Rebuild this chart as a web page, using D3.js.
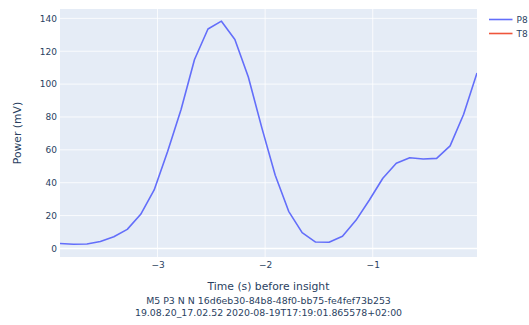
<!DOCTYPE html>
<html>
<head>
<meta charset="utf-8">
<script src="https://cdn.jsdelivr.net/npm/d3@7"></script>
<style>
  html, body { margin: 0; padding: 0; background: #fff; }
  svg { display: block; }
  text { font-family: "DejaVu Sans", Verdana, sans-serif; fill: #2a3f5f; }
</style>
</head>
<body>
<svg id="chart" width="529" height="325"></svg>
<script>
// Sample times (s) before insight, sampled every 0.125 s
const startTime = -3.90625;
const step = 0.125;
// P8 band power (mV) at each sample
const p8Values = [
  3.0, 2.6, 2.7, 4.2, 7.1, 11.6, 20.8, 35.6,
  59.0, 84.5, 115.0, 133.5, 138.3, 127.2, 104.3, 73.5,
  44.5, 22.6, 9.6, 3.9, 3.8, 7.4, 17.1, 29.5,
  42.7, 51.8, 55.2, 54.4, 54.8, 62.4, 81.5, 106.8
];
// T8 has no samples in this window
const t8Values = [];

const seriesNames = ["P8", "T8"];
const seriesColors = ["#636efa", "#EF553B"];
const xTicks = [-3, -2, -1];
const yTicks = [0, 20, 40, 60, 80, 100, 120, 140];
const yRange = [-5.2, 145.7];

const xTitle = "Time (s) before insight";
const subtitleLines = [
  "M5 P3 N N 16d6eb30-84b8-48f0-bb75-fe4fef73b253",
  "19.08.20_17.02.52 2020-08-19T17:19:01.865578+02:00"
];
const yTitle = "Power (mV)";

const p8 = p8Values.map((v, i) => ({ t: startTime + i * step, v }));
const t8 = t8Values.map((v, i) => ({ t: startTime + i * step, v }));

const plot = { left: 60, right: 477, top: 9, bottom: 257 };
const svg = d3.select("#chart");

const x = d3.scaleLinear()
  .domain(d3.extent(p8, d => d.t))
  .range([plot.left, plot.right]);
const y = d3.scaleLinear()
  .domain(yRange)
  .range([plot.bottom, plot.top]);

// plot background
svg.append("rect")
  .attr("x", plot.left).attr("y", plot.top)
  .attr("width", plot.right - plot.left)
  .attr("height", plot.bottom - plot.top)
  .attr("fill", "#E5ECF6");

// grid lines
const grid = svg.append("g");
grid.selectAll("line.gy").data(yTicks).join("line")
  .attr("class", "gy")
  .attr("x1", plot.left).attr("x2", plot.right)
  .attr("y1", d => y(d)).attr("y2", d => y(d))
  .attr("stroke", "#fff")
  .attr("stroke-width", d => d === 0 ? 1.5 : 0.8);
grid.selectAll("line.gx").data(xTicks).join("line")
  .attr("class", "gx")
  .attr("y1", plot.top).attr("y2", plot.bottom)
  .attr("x1", d => x(d)).attr("x2", d => x(d))
  .attr("stroke", "#fff")
  .attr("stroke-width", 0.8);

const fmt = d => (d < 0 ? "\u2212" + Math.abs(d) : String(d));

// y axis tick labels
const yAxis = svg.append("g")
  .attr("transform", `translate(${plot.left - 3},0)`)
  .call(d3.axisLeft(y).tickValues(yTicks).tickFormat(fmt).tickSize(0).tickPadding(0));
yAxis.select(".domain").remove();
yAxis.selectAll("text")
  .attr("font-size", 9)
  .attr("fill", "#2a3f5f")
  .attr("font-family", "DejaVu Sans, Verdana, sans-serif");

// x axis tick labels
const xAxis = svg.append("g")
  .attr("transform", `translate(0,${plot.bottom + 5})`)
  .call(d3.axisBottom(x).tickValues(xTicks).tickFormat(fmt).tickSize(0).tickPadding(0));
xAxis.select(".domain").remove();
xAxis.selectAll("text")
  .attr("font-size", 9)
  .attr("fill", "#2a3f5f")
  .attr("font-family", "DejaVu Sans, Verdana, sans-serif");

// lines
const line = d3.line().x(d => x(d.t)).y(d => y(d.v));
svg.append("clipPath").attr("id", "plotclip")
  .append("rect")
  .attr("x", plot.left).attr("y", plot.top)
  .attr("width", plot.right - plot.left)
  .attr("height", plot.bottom - plot.top);
const traces = svg.append("g").attr("clip-path", "url(#plotclip)");
[p8, t8].forEach((data, i) => {
  if (!data.length) return;
  traces.append("path")
    .datum(data)
    .attr("d", line)
    .attr("fill", "none")
    .attr("stroke", seriesColors[i])
    .attr("stroke-width", 1.6)
    .attr("stroke-linejoin", "round");
});

// axis titles
const cx = (plot.left + plot.right) / 2;
svg.append("text")
  .attr("x", cx).attr("y", 290)
  .attr("text-anchor", "middle")
  .attr("font-size", 10.8)
  .text(xTitle);
svg.selectAll("text.sub").data(subtitleLines).join("text")
  .attr("class", "sub")
  .attr("x", cx)
  .attr("y", (d, i) => 304 + i * 11.6)
  .attr("text-anchor", "middle")
  .attr("font-size", 9.4)
  .text(d => d);

svg.append("text")
  .attr("transform", `translate(21,${(plot.top + plot.bottom) / 2}) rotate(-90)`)
  .attr("text-anchor", "middle")
  .attr("font-size", 10.8)
  .text(yTitle);

// legend
const legend = svg.append("g").attr("transform", "translate(489,19.5)");
seriesNames.forEach((name, i) => {
  const g = legend.append("g").attr("transform", `translate(0,${i * 14})`);
  g.append("line")
    .attr("x1", 0).attr("x2", 23.5)
    .attr("stroke", seriesColors[i])
    .attr("stroke-width", 1.6);
  g.append("text")
    .attr("x", 27.5).attr("y", 3.3)
    .attr("font-size", 9)
    .text(name);
});
</script>
</body>
</html>
